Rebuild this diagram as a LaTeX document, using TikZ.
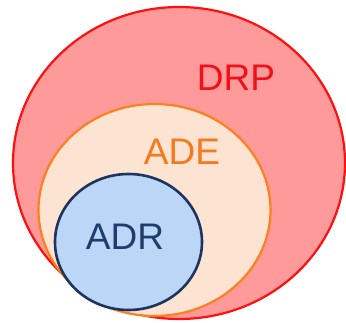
\documentclass[tikz,border=0pt]{standalone}
\usepackage{fontspec}
\setmainfont{Liberation Sans}
\usetikzlibrary{shapes.geometric}
\definecolor{drpfill}{HTML}{FF9A9A}
\definecolor{drpline}{HTML}{FF1010}
\definecolor{adefill}{HTML}{FDE4D2}
\definecolor{adeline}{HTML}{FF7F1E}
\definecolor{adrfill}{HTML}{BBD6F6}
\definecolor{adrline}{HTML}{1C355E}
\definecolor{drptext}{HTML}{F0101A}
\definecolor{adetext}{HTML}{F47A20}
\definecolor{adrtext}{HTML}{1E3D6E}
\tikzset{
  set/.style={ellipse, inner sep=0pt, line width=2.2pt},
  setlabel/.style={font=\fontsize{37}{37}\selectfont, inner sep=0pt}
}
\begin{document}
\begin{tikzpicture}[x=1pt,y=1pt]
\useasboundingbox (0,0) rectangle (346,322);
\fill[white] (0,0) rectangle (346,322);
% nested sets
\node[set, draw=drpline, fill=drpfill, minimum width=332pt, minimum height=312pt] (drp) at (179,159) {};
\node[set, draw=adeline, fill=adefill, minimum width=232pt, minimum height=212pt] (ade) at (154.5,112) {};
\node[set, draw=adrline, fill=adrfill, line width=2.6pt, minimum width=147pt, minimum height=136pt] (adr) at (128.5,80) {};
% labels
\node[setlabel, text=drptext] (drplabel) at (236,244) {DRP};
\node[setlabel, text=adetext] (adelabel) at (182,170) {ADE};
\node[setlabel, text=adrtext] (adrlabel) at (125,85) {ADR};
\end{tikzpicture}
\end{document}
